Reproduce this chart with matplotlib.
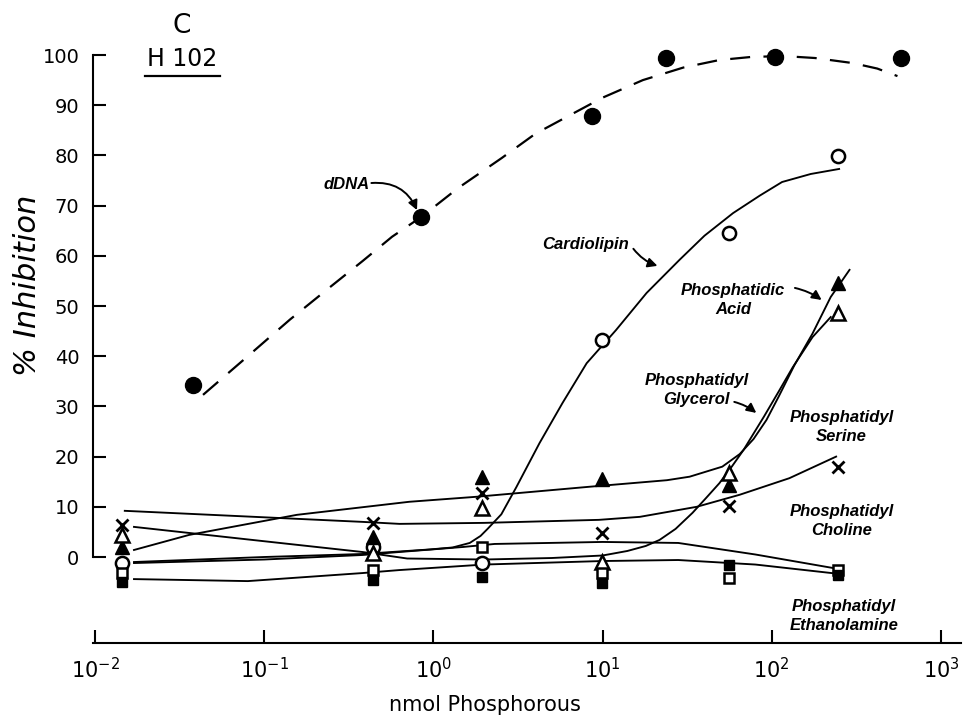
import numpy as np
import matplotlib
matplotlib.use("Agg")
import matplotlib.pyplot as plt
from matplotlib.lines import Line2D

# ---------------- data ----------------
# dDNA (filled circles, dashed fit)
x_ddna = [0.038, 0.84, 8.6, 23.6, 104, 577]
y_ddna = [34.3, 67.7, 87.8, 99.4, 99.6, 99.4]
x_ddna_fit = [0.0435, 0.08, 0.142, 0.25, 0.383, 0.57, 0.853, 1.4, 2.54, 4.0, 6.4, 10, 17.3, 30, 49, 75, 116, 180, 300, 420, 553]
y_ddna_fit = [32.3, 40.0, 47.3, 54.0, 59.0, 63.8, 67.8, 73.5, 79.5, 84.3, 88.0, 91.5, 95.0, 97.5, 99.0, 99.6, 99.8, 99.4, 98.4, 97.3, 95.8]

# six phospholipid dose columns
x_lipid = [0.0145, 0.44, 1.95, 9.9, 56, 245]
y_cardiolipin = [-1.2, 2.0, -1.2, 43.2, 64.5, 79.9]
y_pa = [2.0, 4.0, 16.0, 15.5, 14.3, 54.6]
y_pg = [4.4, 0.8, 9.8, -1.0, 16.7, 48.6]
y_ps = [6.4, 6.8, 12.7, 4.8, 10.2, 18.0]
y_pc = [-3.2, -2.6, 2.0, -3.2, -4.2, -2.5]
y_pe = [-5.0, -4.6, -4.0, -5.2, -1.6, -3.5]

# hand-drawn fit curves
x_cl_fit = [0.017, 0.1, 0.38, 0.63, 0.95, 1.3, 1.64, 1.9, 2.09, 2.52, 3.09, 4.24, 5.8, 8.05, 12, 18.2, 28.5, 40, 59, 85, 115, 170, 250]
y_cl_fit = [-1.0, 0.0, 0.6, 1.1, 1.5, 1.9, 2.8, 4.2, 5.6, 8.5, 13.9, 22.7, 30.7, 38.6, 45.2, 52.6, 59.2, 64.0, 68.5, 72.0, 74.7, 76.3, 77.3]
x_pa_fit = [0.017, 0.036, 0.108, 0.156, 0.72, 1.8, 8.4, 24, 32.7, 51, 64.6, 78, 93, 110, 136, 174, 223, 288]
y_pa_fit = [1.4, 4.4, 7.4, 8.4, 11.0, 12.0, 14.0, 15.3, 16.0, 18.0, 20.5, 23.5, 27.3, 32.0, 38.2, 44.5, 51.8, 57.2]
x_pg_fit = [0.017, 0.08, 0.38, 0.7, 2, 5, 10, 14, 18, 21.7, 27, 34, 41, 49, 58, 68, 90, 110, 133, 174, 223]
y_pg_fit = [6.0, 3.5, 1.0, -0.3, -0.5, -0.2, 0.3, 1.2, 2.2, 3.4, 5.6, 8.8, 11.8, 14.7, 18.0, 21.3, 28.0, 33.0, 37.8, 43.8, 47.8]
x_ps_fit = [0.015, 0.38, 0.63, 2, 9.5, 16.6, 36, 64.6, 127, 240]
y_ps_fit = [9.2, 7.0, 6.6, 6.8, 7.4, 8.0, 10.0, 12.4, 15.7, 20.0]
x_pc_fit = [0.017, 0.1, 0.38, 0.63, 1.5, 2.3, 10, 28, 80, 240]
y_pc_fit = [-1.2, -0.5, 0.4, 1.0, 2.0, 2.6, 3.0, 2.8, 0.5, -2.3]
x_pe_fit = [0.017, 0.08, 0.38, 0.63, 2, 10, 28, 80, 240]
y_pe_fit = [-4.4, -4.8, -3.2, -2.6, -1.5, -0.8, -0.6, -1.5, -3.3]

xtick_vals = [1e-2, 1e-1, 1e0, 1e1, 1e2, 1e3]
xtick_labels = [r"$10^{-2}$", r"$10^{-1}$", r"$10^{0}$", r"$10^{1}$", r"$10^{2}$", r"$10^{3}$"]
ytick_vals = [0, 10, 20, 30, 40, 50, 60, 70, 80, 90, 100]

# ---------------- figure ----------------
plt.rcParams['mathtext.fontset'] = 'dejavusans'
W, H = 966, 726
fig = plt.figure(figsize=(W / 100, H / 100), dpi=100)

ax = fig.add_axes([93.3 / W, (H - 643) / H, 868 / W, (643 - 4.8) / H])
ax.set_xscale('log')
ax.set_xlim(10 ** -2.01, 10 ** 3.12)
ax.set_ylim(-17.13, 110)

lw = 1.35
ax.plot(x_ddna_fit, y_ddna_fit, color='black', lw=1.6, dashes=(9, 6), zorder=2)
for xf, yf in [(x_cl_fit, y_cl_fit), (x_pa_fit, y_pa_fit), (x_pg_fit, y_pg_fit),
               (x_ps_fit, y_ps_fit), (x_pc_fit, y_pc_fit), (x_pe_fit, y_pe_fit)]:
    ax.plot(xf, yf, color='black', lw=lw, zorder=2, solid_joinstyle='round')

mk = dict(linestyle='none', zorder=4, clip_on=False)
ax.plot(x_ddna, y_ddna, marker='o', ms=11.5, mfc='black', mec='black', **mk)
ax.plot(x_lipid, y_cardiolipin, marker='o', ms=9.5, mfc='white', mec='black', mew=1.8, **mk)
ax.plot(x_lipid, y_pa, marker='^', ms=10.5, mfc='black', mec='black', **mk)
ax.plot(x_lipid, y_pg, marker='^', ms=10, mfc='white', mec='black', mew=1.8, **mk)
ax.plot(x_lipid, y_ps, marker='x', ms=8, mec='black', mew=2.0, **mk)
ax.plot(x_lipid, y_pc, marker='s', ms=7.5, mfc='white', mec='black', mew=1.8, **mk)
ax.plot(x_lipid, y_pe, marker='s', ms=7.5, mfc='black', mec='black', **mk)

# axes styling
for s in ['top', 'right']:
    ax.spines[s].set_visible(False)
ax.spines['left'].set_bounds(0, 100)
ax.spines['left'].set_linewidth(1.5)
ax.spines['bottom'].set_linewidth(1.5)
ax.set_xticks(xtick_vals)
ax.set_xticklabels(xtick_labels)
ax.xaxis.set_minor_locator(matplotlib.ticker.NullLocator())
ax.set_yticks(ytick_vals)
ax.set_yticklabels([str(v) for v in ytick_vals])
ax.tick_params(axis='both', direction='in', length=9.5, width=1.5, labelsize=14, colors='black')
ax.tick_params(axis='x', pad=10, labelsize=15)
ax.tick_params(axis='y', pad=10)

# titles / labels
fig.text(182 / W, 1 - 26 / H, "C", ha='center', va='center', fontsize=19, family='DejaVu Sans')
fig.text(182 / W, 1 - 58.5 / H, "H 102", ha='center', va='center', fontsize=17, family='DejaVu Sans')
fig.add_artist(Line2D([145 / W, 220 / W], [1 - 76 / H, 1 - 76 / H], color='black', lw=1.6))
fig.text(28 / W, 1 - 285 / H, "% Inhibition", rotation=90, ha='center', va='center',
         fontsize=22, fontstyle='italic', family='DejaVu Sans')
fig.text(485 / W, 1 - 705 / H, "nmol Phosphorous", ha='center', va='center', fontsize=15,
         family='DejaVu Sans')

lab = dict(fontsize=12, fontweight='bold', fontstyle='italic', family=['Liberation Sans', 'DejaVu Sans'],
           ha='center', va='center', linespacing=1.3)
ax.text(0.308, 74.3, "dDNA", **lab)
ax.text(7.95, 62.2, "Cardiolipin", **lab)
ax.text(59, 51.2, "Phosphatidic\nAcid", **lab)
ax.text(36, 33.3, "Phosphatidyl\nGlycerol", **lab)
ax.text(258, 25.9, "Phosphatidyl\nSerine", **lab)
ax.text(258, 7.2, "Phosphatidyl\nCholine", **lab)
ax.text(268, -11.75, "Phosphatidyl\nEthanolamine", **lab)

arr = dict(arrowstyle='-|>', color='black', lw=1.4, mutation_scale=14, shrinkA=0, shrinkB=0)
ax.annotate("", xy=(0.80, 69.1), xytext=(0.43, 74.5),
            arrowprops=dict(connectionstyle='arc3,rad=-0.35', **arr))
ax.annotate("", xy=(21.1, 58.0), xytext=(15.2, 61.4),
            arrowprops=dict(connectionstyle='arc3,rad=0.15', **arr))
ax.annotate("", xy=(197, 51.2), xytext=(137, 53.6),
            arrowprops=dict(connectionstyle='arc3,rad=-0.1', **arr))
ax.annotate("", xy=(81, 28.7), xytext=(60, 30.9),
            arrowprops=dict(connectionstyle='arc3,rad=-0.1', **arr))

fig.savefig("out.png", dpi=100)
